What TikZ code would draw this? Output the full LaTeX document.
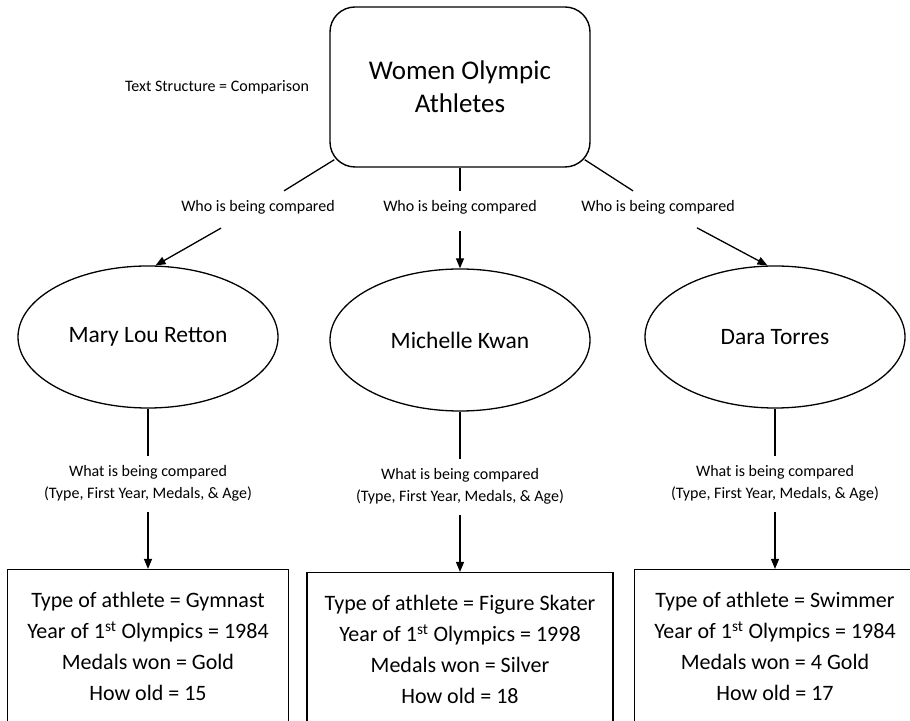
\documentclass[tikz,border=0pt]{standalone}
\usepackage{fontspec}
\setmainfont{Carlito}
\usetikzlibrary{arrows.meta,positioning,calc,shapes.geometric}
\tikzset{
 hub/.style={draw,rounded corners=25pt,line width=1.4pt,minimum width=260pt,minimum height=160pt,align=center,font=\fontsize{27}{33}\selectfont},
 person/.style={draw,ellipse,line width=1.3pt,minimum width=260pt,minimum height=142pt,inner sep=0pt,font=\fontsize{23.5}{28}\selectfont},
 facts/.style={draw,line width=1.5pt,minimum width=281pt,minimum height=154pt,anchor=north,align=center,font=\fontsize{22}{31}\selectfont},
 cue/.style={font=\fontsize{16}{22}\selectfont,inner ysep=9pt,align=center},
 link/.style={line width=1.3pt},
 arr/.style={link,-{Triangle[length=10pt,width=8pt]}}
}
\begin{document}
\begin{tikzpicture}[x=1pt,y=1pt]
\useasboundingbox (0,0) rectangle (910,720);
\clip (0,0) rectangle (910,720);
\node[hub] (top) at (460,633) {Women Olympic\\Athletes};
\node[cue] (note) at (217,633) {Text Structure = Comparison};
\node[cue] (who1) at (258,513) {Who is being compared};
\node[cue] (who2) at (460,513) {Who is being compared};
\node[cue] (who3) at (658,513) {Who is being compared};
\node[person] (p1) at (148,383) {Mary Lou Retton};
\node[person] (p2) at (460,380) {Michelle Kwan};
\node[person] (p3) at (775,383) {Dara Torres};
\node[cue,inner ysep=10pt,below=47pt of p1] (what1) {What is being compared\\(Type, First Year, Medals, \& Age)};
\node[cue,inner ysep=10pt,below=47pt of p2] (what2) {What is being compared\\(Type, First Year, Medals, \& Age)};
\node[cue,inner ysep=10pt,below=47pt of p3] (what3) {What is being compared\\(Type, First Year, Medals, \& Age)};
\node[facts,below=57pt of what1] (f1) {Type of athlete = Gymnast\\Year of 1\textsuperscript{st} Olympics = 1984\\Medals won = Gold\\How old = 15};
\node[facts,below=57pt of what2,minimum width=306pt] (f2) {Type of athlete = Figure Skater\\Year of 1\textsuperscript{st} Olympics = 1998\\Medals won = Silver\\How old = 18};
\node[facts,below=57pt of what3] (f3) {Type of athlete = Swimmer\\Year of 1\textsuperscript{st} Olympics = 1984\\Medals won = 4 Gold\\How old = 17};
% top box to the three names
\draw[link] ($(top.south west)+(5,8)$) -- (who1);
\draw[link] (top) -- (who2);
\draw[link] ($(top.south east)+(-6,8)$) -- (who3);
\draw[arr,shorten <=10pt] (who1) -- (p1.84);
\draw[arr,shorten <=8pt] (who2) -- (p2);
\draw[arr,shorten <=10pt] (who3) -- (p3.96);
\foreach \i in {1,2,3} {
 \draw[link] (p\i) -- (what\i);
 \draw[arr] (what\i) -- (f\i);
}
\end{tikzpicture}
\end{document}
